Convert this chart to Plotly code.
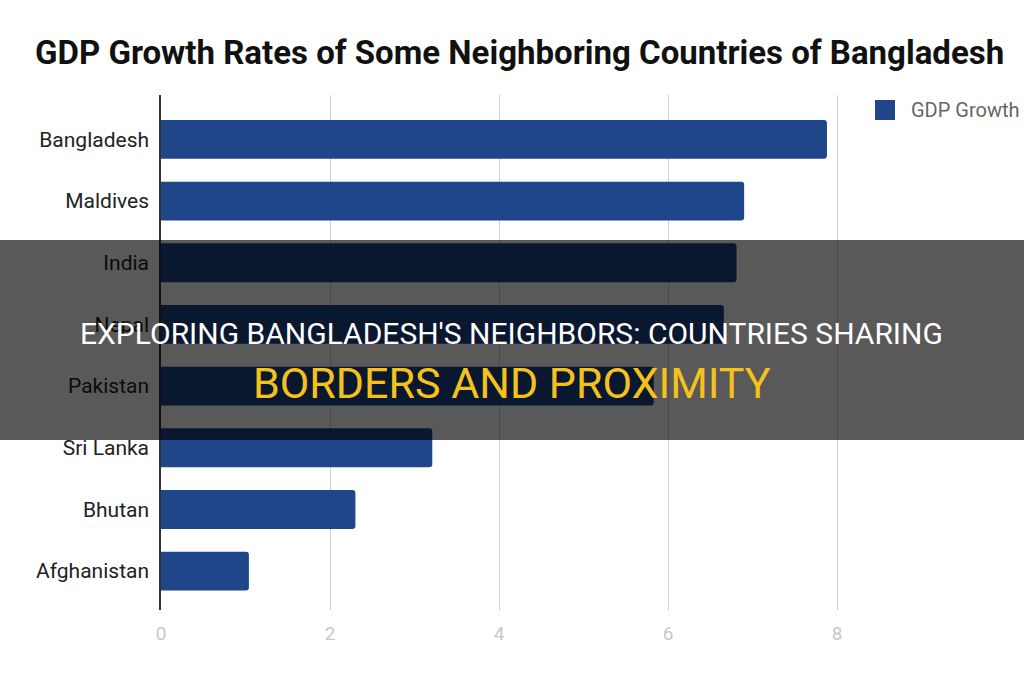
import plotly.graph_objects as go

countries = ["Bangladesh", "Maldives", "India", "Nepal", "Pakistan", "Sri Lanka", "Bhutan", "Afghanistan"]
gdp_growth = [7.88, 6.90, 6.81, 6.66, 5.83, 3.21, 2.30, 1.04]
x_ticks = [0, 2, 4, 6, 8]
series_name = "GDP Growth"
title_text = "GDP Growth Rates of Some Neighboring Countries of Bangladesh"
overlay_line1 = "EXPLORING BANGLADESH'S NEIGHBORS: COUNTRIES SHARING"
overlay_line2 = "BORDERS AND PROXIMITY"

W, H = 1024, 680
L, R, T, B = 161, 170, 95, 70
PW, PH = W - L - R, H - T - B
BAR = "#1e4688"

def xp(px):
    return (px - L) / PW

def yp(py):
    return 1 - (py - T) / PH

fig = go.Figure()
fig.add_trace(go.Bar(
    y=countries, x=gdp_growth, orientation="h", name=series_name,
    marker=dict(color=BAR, cornerradius=3, line=dict(width=0)),
    showlegend=False,
))

fig.update_layout(
    width=W, height=H, autosize=False,
    margin=dict(l=L, r=R, t=T, b=B),
    paper_bgcolor="white", plot_bgcolor="white",
    bargap=0.37,
    font=dict(family="Roboto, Arial, sans-serif"),
    title=dict(text="<b>" + title_text + "</b>", xref="container", yref="container",
               x=35 / W, xanchor="left", y=1 - 52 / H, yanchor="middle",
               font=dict(size=33, color="#111111", family="Roboto, Arial, sans-serif")),
    xaxis=dict(range=[0, 8.2], tickvals=x_ticks, showgrid=True, gridcolor="#d0d0d0", gridwidth=1,
               zeroline=False, showline=False, tickfont=dict(size=19, color="#c8c8c8"),
               ticklabelstandoff=10),
    yaxis=dict(type="category", categoryorder="array", categoryarray=countries,
               range=[7.63, -0.72], showgrid=False, showline=True, linecolor="#333333", linewidth=1.5,
               tickfont=dict(size=21, color="#222222"), ticklabelstandoff=6, zeroline=False),
)

# legend (custom swatch + label)
fig.add_shape(type="rect", xref="paper", yref="paper",
              x0=xp(875), x1=xp(895), y0=yp(120), y1=yp(100),
              fillcolor=BAR, line=dict(width=0))
fig.add_annotation(text=series_name, xref="paper", yref="paper", x=xp(909), y=yp(110),
                   showarrow=False, xanchor="left", yanchor="middle",
                   font=dict(size=20, color="#666666"))

# dark overlay banner
fig.add_shape(type="rect", xref="paper", yref="paper",
              x0=xp(-5), x1=xp(W + 5), y0=yp(440), y1=yp(240),
              fillcolor="rgba(0,0,0,0.65)", line=dict(width=0), layer="above")

xc = xp(512)
fig.add_annotation(text=overlay_line1, xref="paper", yref="paper", x=xc, y=yp(333),
                   showarrow=False, xanchor="center", yanchor="middle",
                   font=dict(size=30, color="white", family="Roboto, Arial, sans-serif"))
fig.add_annotation(text=overlay_line2, xref="paper", yref="paper", x=xc, y=yp(383),
                   showarrow=False, xanchor="center", yanchor="middle",
                   font=dict(size=43, color="#f5c21b", family="Roboto, Arial, sans-serif"))

fig.write_html("out.html", config={"responsive": False},
               default_width="1024px", default_height="680px",
               post_script="document.body.style.margin='0';document.body.style.overflow='hidden';")
